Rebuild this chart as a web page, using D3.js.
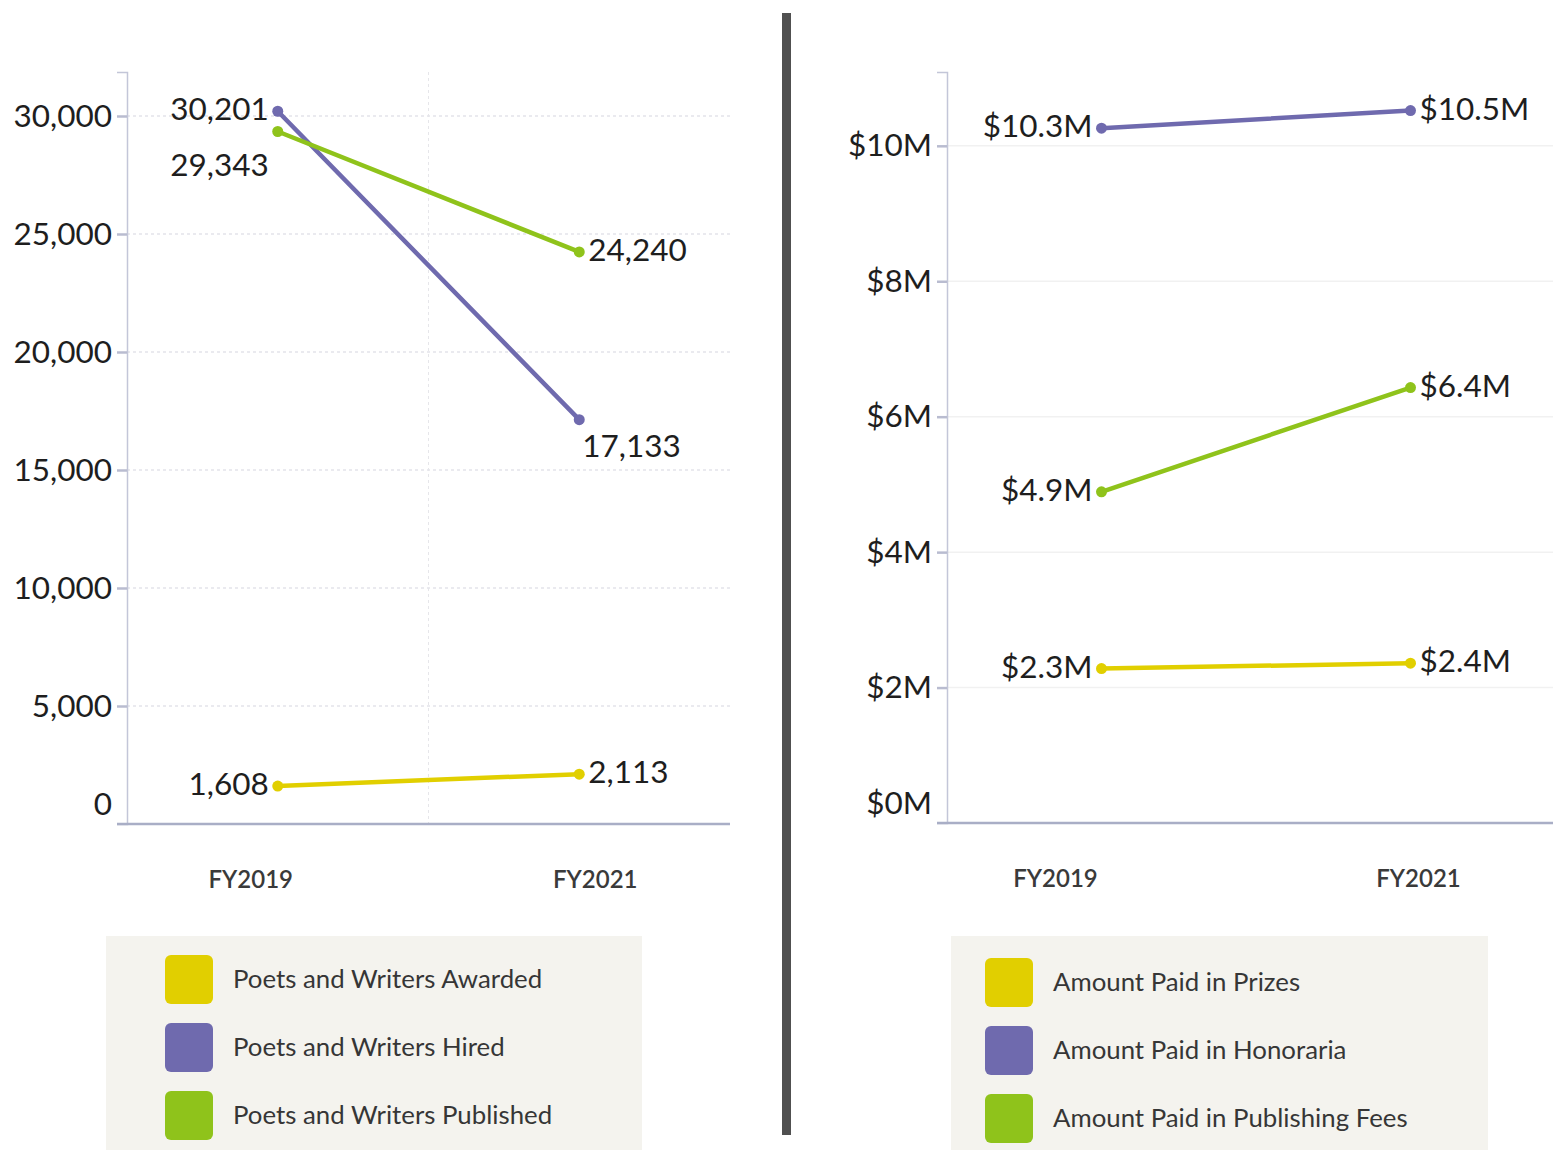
<!DOCTYPE html>
<html>
<head>
<meta charset="utf-8">
<script src="https://cdn.jsdelivr.net/npm/d3@7"></script>
<style>
  body { margin: 0; background: #fff; }
  svg { display: block; font-family: Lato, "Open Sans", sans-serif; }
</style>
</head>
<body>
<div id="chart"></div>
<script>
// data
const years = ['FY2019', 'FY2021'];

const peopleSeries = ['Poets and Writers Awarded', 'Poets and Writers Hired', 'Poets and Writers Published'];
const awarded = [1608, 2113];
const hired = [30201, 17133];
const published = [29343, 24240];
const peopleTicks = [0, 5000, 10000, 15000, 20000, 25000, 30000];

const moneySeries = ['Amount Paid in Prizes', 'Amount Paid in Honoraria', 'Amount Paid in Publishing Fees'];
const prizes = [2.28, 2.36];      // $M
const honoraria = [10.26, 10.52];
const fees = [4.89, 6.43];
const moneyTicks = [0, 2, 4, 6, 8, 10];

const colors = ['#e1cf00', '#6f6aae', '#8fc31b'];

const W = 1553, H = 1150;
const svg = d3.select('#chart').append('svg')
  .attr('width', W).attr('height', H);

function drawPanel(opts) {
  const g = svg.append('g');
  const x = d3.scaleBand().domain(years).range([opts.x0, opts.x1]);
  const y = d3.scaleLinear().domain([0, opts.ymax]).range([opts.bottom, opts.top]);

  // grid
  g.append('g').selectAll('line').data(opts.ticks.filter(d => d > 0)).enter()
    .append('line')
    .attr('x1', opts.x0).attr('x2', opts.gridEnd)
    .attr('y1', d => y(d)).attr('y2', d => y(d))
    .attr('stroke', opts.gridColor).attr('stroke-width', 1.5)
    .attr('stroke-dasharray', opts.dashed ? '3,3' : null);

  if (opts.vgrid) {
    g.append('line')
      .attr('x1', x(years[1])).attr('x2', x(years[1]))
      .attr('y1', opts.top).attr('y2', opts.bottom)
      .attr('stroke', '#e6e6ea').attr('stroke-dasharray', '3,3');
  }

  // y axis
  const yAxis = d3.axisLeft(y).tickValues(opts.ticks).tickSize(10).tickPadding(5)
    .tickFormat(opts.tickFormat);
  const ya = g.append('g').attr('transform', `translate(${opts.x0},0)`).call(yAxis)
    .attr('font-family', null).attr('font-size', null);
  ya.select('.domain').attr('stroke', '#c3c6d8').attr('stroke-width', 1.5);
  ya.selectAll('.tick line').attr('stroke', '#b9bcd0').attr('stroke-width', 2.5);
  ya.selectAll('.tick text').attr('font-size', 31.5).attr('fill', '#1e1e1e')
    .attr('dy', d => d === 0 ? '-0.3em' : '0.32em');
  ya.selectAll('.tick').filter(d => d === 0).select('line').remove();

  // x axis baseline
  g.append('line')
    .attr('x1', opts.x0 - 10).attr('x2', opts.gridEnd)
    .attr('y1', opts.bottom).attr('y2', opts.bottom)
    .attr('stroke', '#a9aec6').attr('stroke-width', 2.5);

  // x labels
  g.selectAll('.xl').data(years).enter().append('text')
    .attr('x', (d, i) => x(d) + x.bandwidth() / 2 + opts.xLabelShift[i])
    .attr('y', opts.bottom + 56)
    .attr('dy', '0.35em')
    .attr('text-anchor', 'middle')
    .attr('font-size', 24).attr('font-weight', 600).attr('fill', '#3a3a3a')
    .text(d => d);

  const cx = d => x(d) + x.bandwidth() / 2;
  const line = d3.line().x((d, i) => cx(years[i])).y(d => y(d));

  opts.series.forEach((vals, s) => {
    g.append('path').datum(vals)
      .attr('d', line)
      .attr('fill', 'none')
      .attr('stroke', colors[s]).attr('stroke-width', 4.5)
      .attr('stroke-linecap', 'round');
    g.selectAll(null).data(vals).enter().append('circle')
      .attr('cx', (d, i) => cx(years[i])).attr('cy', d => y(d))
      .attr('r', 5.5).attr('fill', colors[s]);
    g.selectAll(null).data(vals).enter().append('text')
      .attr('x', (d, i) => cx(years[i]) + (i === 0 ? -9 : 9) + opts.nudge[s][i][0])
      .attr('y', (d, i) => y(d) - 2 + opts.nudge[s][i][1])
      .attr('dy', '0.35em')
      .attr('text-anchor', (d, i) => i === 0 ? 'end' : 'start')
      .attr('font-size', 31.5).attr('fill', '#1e1e1e')
      .text(opts.labelFormat);
  });

  // legend
  const lg = g.append('g');
  lg.append('rect')
    .attr('x', opts.legend.x).attr('y', 936)
    .attr('width', opts.legend.w).attr('height', 220)
    .attr('fill', '#f4f3ee');
  opts.names.forEach((name, i) => {
    const yy = opts.legend.y0 + i * 68;
    lg.append('rect')
      .attr('x', opts.legend.sx).attr('y', yy - 24)
      .attr('width', 48).attr('height', 49).attr('rx', 6)
      .attr('fill', colors[i]);
    lg.append('text')
      .attr('x', opts.legend.sx + 68).attr('y', yy)
      .attr('dy', '0.35em')
      .attr('font-size', 25.8).attr('fill', '#363636')
      .text(name);
  });
}

const fmtInt = d3.format(',');
drawPanel({
  x0: 127, x1: 730, gridEnd: 730,
  top: 72, bottom: 824, ymax: 31864,
  ticks: peopleTicks, tickFormat: fmtInt, labelFormat: fmtInt,
  gridColor: '#e4e4ea', dashed: true, vgrid: true,
  xLabelShift: [-27, 16],
  series: [awarded, hired, published],
  names: peopleSeries,
  nudge: [[[0, 0], [0, 0]], [[0, 0], [-6, 28]], [[0, 35], [0, 0]]],
  legend: { x: 106, w: 536, sx: 165, y0: 979 }
});

drawPanel({
  x0: 947, x1: 1565, gridEnd: 1553,
  top: 72, bottom: 823, ymax: 11.09,
  ticks: moneyTicks, tickFormat: d => '$' + d + 'M',
  labelFormat: d => '$' + d3.format('.1f')(d) + 'M',
  gridColor: '#f1f1f1', dashed: false, vgrid: false,
  xLabelShift: [-46, 8],
  series: [prizes, honoraria, fees],
  names: moneySeries,
  nudge: [[[0, 0], [0, 0]], [[0, 0], [0, 0]], [[0, 0], [0, 0]]],
  legend: { x: 951, w: 537, sx: 985, y0: 982 }
});

// divider between the two panels
svg.append('rect')
  .attr('x', 782).attr('y', 13)
  .attr('width', 9).attr('height', 1122)
  .attr('fill', '#505050');
</script>
</body>
</html>
